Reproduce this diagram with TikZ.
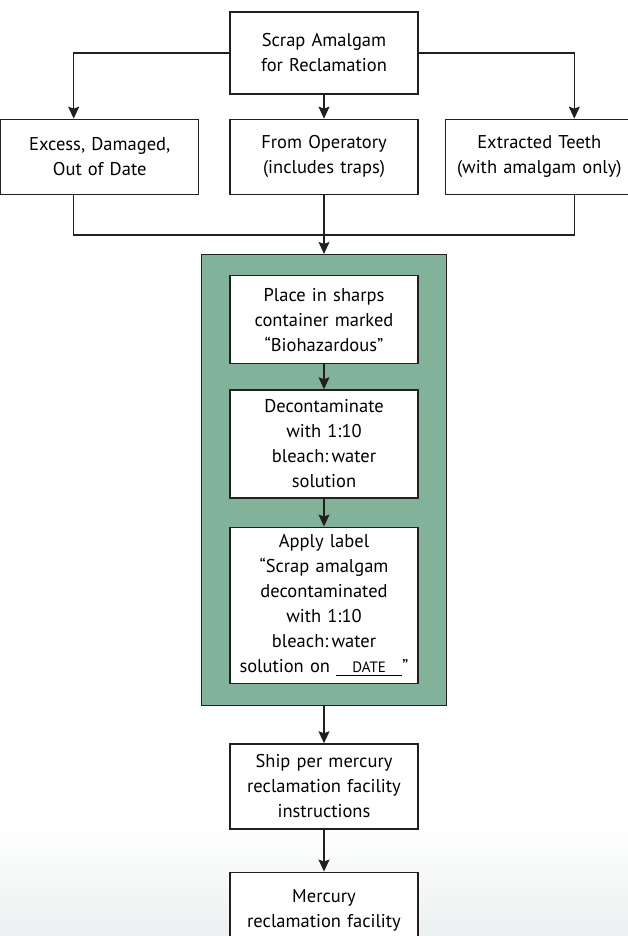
\documentclass[tikz,border=0pt]{standalone}
\usepackage{fontspec}
\setmainfont{PT Sans}
\usepackage{tikz}
\usetikzlibrary{positioning,arrows.meta}
\definecolor{panelgreen}{RGB}{131,178,155}
\definecolor{inkcolor}{RGB}{35,31,32}
\definecolor{fadegray}{RGB}{236,240,240}
\newcommand{\dateline}{\makebox[66pt]{\fontsize{15}{15}\selectfont DATE}\llap{\rule[-3pt]{66pt}{0.8pt}}}
\frenchspacing

\begin{document}
\begin{tikzpicture}[
			x=1pt, y=-1pt,
			font=\fontsize{18.5}{25}\selectfont,
			box/.style={rectangle, draw=inkcolor, fill=white, line width=1.3pt, minimum width=188pt, inner sep=0pt, text width=184pt, align=center},
			greenbox/.style={rectangle, draw=inkcolor, fill=panelgreen, line width=1.3pt, minimum width=245pt, minimum height=451pt, inner sep=0pt},
			edge/.style={draw=inkcolor, line width=1.3pt},
			tip/.style={-{Stealth[length=12pt, width=11pt, inset=2pt]}}
		]
		\useasboundingbox (0,0) rectangle (628,936);
		\clip (0,0) rectangle (628,936);
		\fill[top color=white, bottom color=fadegray] (0,828) rectangle (628,936);

		\node[box, minimum height=82pt] (scrap) at (324,53) {Scrap Amalgam\\for Reclamation};
		\node[box, minimum height=75pt] (operatory) [below=24pt of scrap] {From Operatory\\(includes traps)};
		\node[box, minimum height=75pt, minimum width=198pt] (excess) [left=30pt of operatory] {Excess, Damaged,\\Out of Date};
		\node[box, minimum height=75pt] (teeth) [right=26pt of operatory] {Extracted Teeth\\(with amalgam only)};
		\coordinate (join) at (324,235);

		\node[greenbox] (panel) [below=59pt of operatory] {};
		\node[box, anchor=north, minimum height=88pt] (sharps) at ([yshift=-21pt]panel.north) {Place in sharps\\container marked\\``Biohazardous''};
		\node[box, minimum height=108pt] (decon) [below=25pt of sharps] {Decontaminate\\with 1:10\\bleach:\,water\\solution};
		\node[box, minimum height=156pt] (label) [below=28pt of decon] {Apply label\\``Scrap amalgam\\decontaminated\\with 1:10\\bleach:\,water\\solution on \dateline''};

		\node[box, minimum height=85pt] (ship) [below=37pt of panel] {Ship per mercury\\reclamation facility\\instructions};
		\node[box, minimum height=76pt] (mercury) [below=42pt of ship] {Mercury\\reclamation facility};

		% split into three sources
		\draw[edge, tip] (scrap.west) -| ([xshift=-26pt]excess.north);
		\draw[edge, tip] (scrap.east) -| ([xshift=35pt]teeth.north);
		\draw[edge, tip] (scrap) -- (operatory);
		% merge again
		\draw[edge] ([xshift=-26pt]excess.south) |- (join) -| ([xshift=35pt]teeth.south);
		\draw[edge, tip] (operatory) -- (panel);
		\draw[edge, tip] (sharps) -- (decon);
		\draw[edge, tip] (decon) -- (label);
		\draw[edge, tip] (panel) -- (ship);
		\draw[edge, tip] (ship) -- (mercury);
		\end{tikzpicture}
\end{document}
